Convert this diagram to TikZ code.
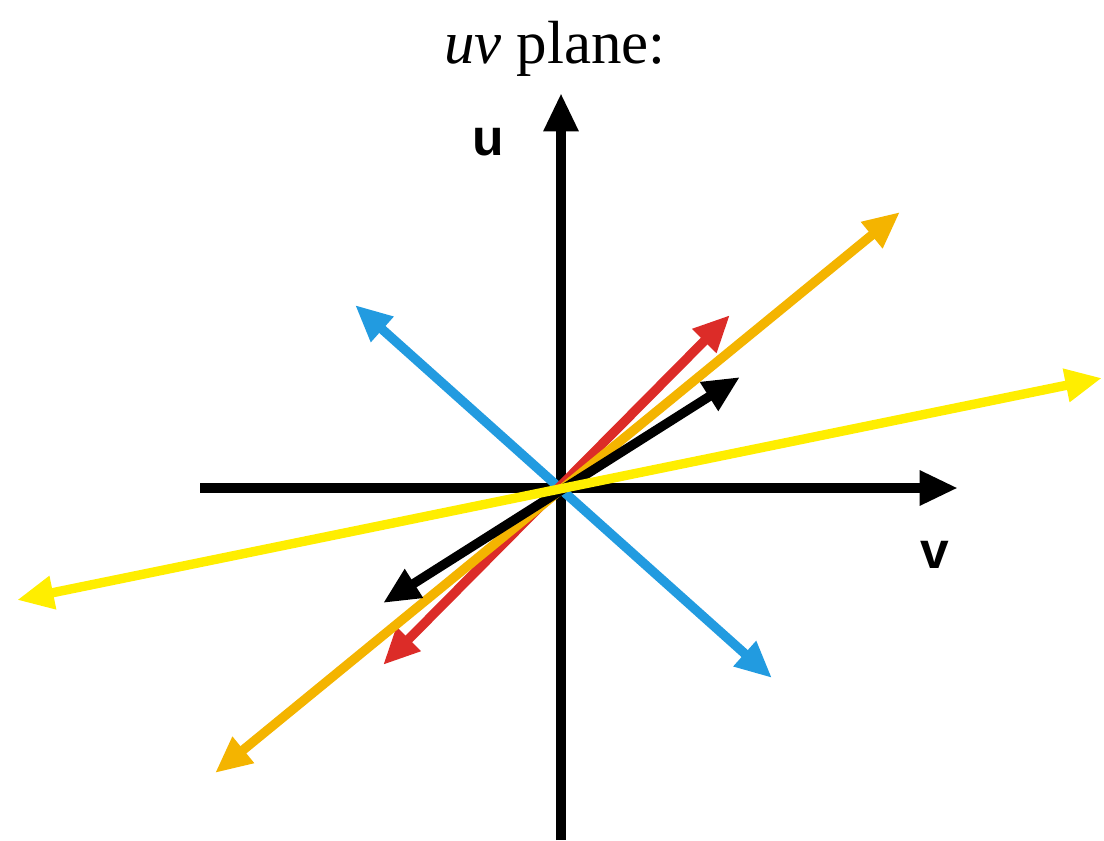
\documentclass[tikz,border=0pt]{standalone}
\usepackage{fontspec}
\setmainfont{Liberation Serif}
\setsansfont{Liberation Sans}
\usetikzlibrary{arrows.meta}
\definecolor{cblue}{RGB}{34,155,224}
\definecolor{cred}{RGB}{220,44,40}
\definecolor{corange}{RGB}{244,180,0}
\definecolor{cyellow}{RGB}{255,238,0}
\tikzset{
  vec/.style={line width=8pt, {Triangle[length=1.1cm,width=0.95cm]}-{Triangle[length=1.1cm,width=0.95cm]}},
  axis/.style={line width=8.5pt, -{Triangle[length=1.15cm,width=0.98cm]}},
  axlabel/.style={font=\sffamily\bfseries\fontsize{44}{48}\selectfont, inner sep=0pt},
}
\begin{document}
\begin{tikzpicture}[x=0.03cm,y=-0.03cm]
\useasboundingbox (0,0) rectangle (1104,840);
\node[font=\fontsize{52}{56}\selectfont, anchor=base, inner sep=0pt] (title) at (555,63) {\textit{uv} plane:};
\coordinate (O) at (558,490);
\coordinate (ubot) at (561,840);
\coordinate (utop) at (561,93);
\coordinate (vleft) at (200,488);
\coordinate (vright) at (958,488);
\draw[axis] (ubot) -- (utop);
\draw[axis] (vleft) -- (vright);
\node[axlabel] (ulab) at (488,142) {u};
\node[axlabel] (vlab) at (935,555) {v};
% vectors
\coordinate (b1) at (355,305);
\coordinate (b2) at (772,678);
\coordinate (r1) at (730,315);
\coordinate (r2) at (383,665);
\coordinate (o1) at (900,212);
\coordinate (o2) at (215,773);
\coordinate (k1) at (740,377);
\coordinate (k2) at (383,603);
\coordinate (y1) at (1102,378);
\coordinate (y2) at (17,600);
\draw[vec, cblue] (b1) -- (b2);
\draw[vec, cred] (r2) -- (r1);
\draw[vec, corange] (o2) -- (o1);
\draw[vec, black] (k2) -- (k1);
\draw[vec, cyellow] (y2) -- (y1);
\end{tikzpicture}
\end{document}
